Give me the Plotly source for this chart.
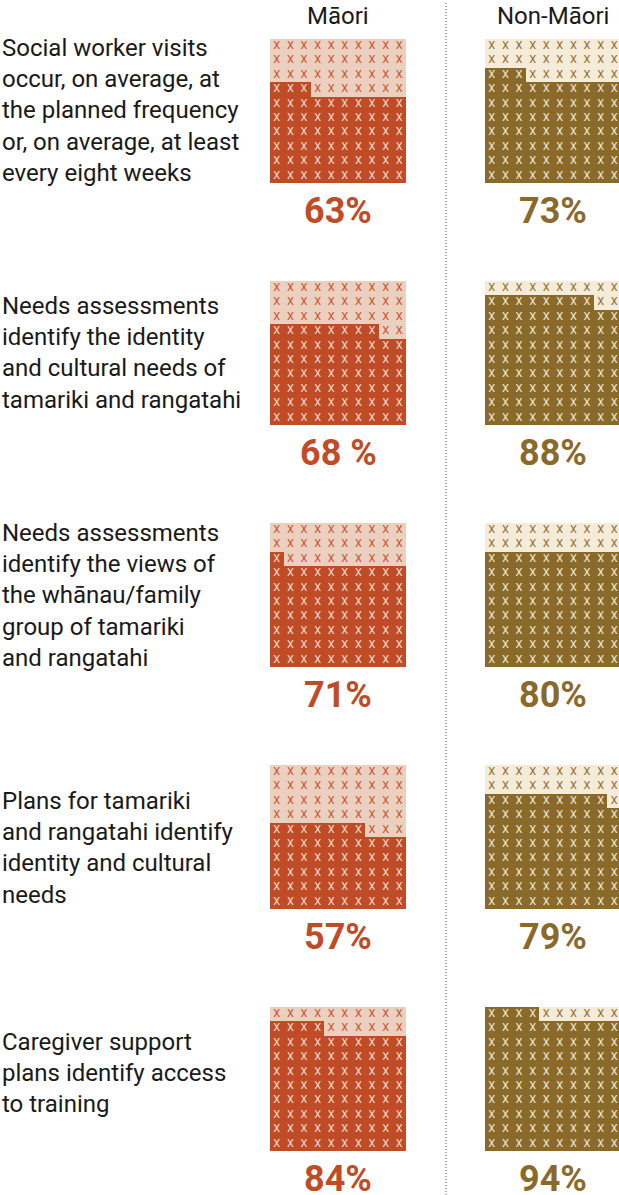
import plotly.graph_objects as go

# ---- data -------------------------------------------------------------
measures = [
    "Social worker visits<br>occur, on average, at<br>the planned frequency<br>or, on average, at least<br>every eight weeks",
    "Needs assessments<br>identify the identity<br>and cultural needs of<br>tamariki and rangatahi",
    "Needs assessments<br>identify the views of<br>the whānau/family<br>group of tamariki<br>and rangatahi",
    "Plans for tamariki<br>and rangatahi identify<br>identity and cultural<br>needs",
    "Caregiver support<br>plans identify access<br>to training",
]
groups = ["Māori", "Non-Māori"]
maori_pct = [63, 68, 71, 57, 84]
non_maori_pct = [73, 88, 80, 79, 94]
maori_labels = ["63%", "68 %", "71%", "57%", "84%"]
non_maori_labels = ["73%", "88%", "80%", "79%", "94%"]

# ---- styling ------------------------------------------------------------
W, H = 619, 1195
FONT = "Roboto"
styles = {
    "Māori": dict(dark="#BF4C27", light="#EBCFBF", x_on_dark="#F6D9CB", x_on_light="#C7552F"),
    "Non-Māori": dict(dark="#8A6A2B", light="#F5EBD9", x_on_dark="#F3E7D0", x_on_light="#8E6E2F"),
}
GRID_LEFT = {"Māori": 270, "Non-Māori": 485}
GRID_W, GRID_H = 136, 144
PANEL_TOP0, PANEL_STEP = 39, 242
NCOLS, NROWS = 10, 10
label_centres = [110.5, 353, 595.5, 847.5, 1073]

fig = go.Figure()
layout_axes = {}
annotations = []

ax_n = 0
for i in range(len(measures)):
    top = PANEL_TOP0 + PANEL_STEP * i
    for g, pcts, labels in (("Māori", maori_pct, maori_labels),
                            ("Non-Māori", non_maori_pct, non_maori_labels)):
        st = styles[g]
        pct = pcts[i]
        ax_n += 1
        xa = "x" if ax_n == 1 else f"x{ax_n}"
        ya = "y" if ax_n == 1 else f"y{ax_n}"

        # waffle cells: filled from the bottom row, left to right
        z = [[1 if r * NCOLS + c < pct else 0 for c in range(NCOLS)] for r in range(NROWS)]
        fig.add_trace(go.Heatmap(
            z=z, x=list(range(NCOLS)), y=list(range(NROWS)),
            colorscale=[[0, st["light"]], [1, st["dark"]]],
            zmin=0, zmax=1, showscale=False, hoverinfo="skip",
            xaxis=xa, yaxis=ya,
        ))
        xs, ys, cols = [], [], []
        for r in range(NROWS):
            for c in range(NCOLS):
                xs.append(c)
                ys.append(r)
                cols.append(st["x_on_dark"] if z[r][c] else st["x_on_light"])
        fig.add_trace(go.Scatter(
            x=xs, y=ys, mode="text", text=["X"] * len(xs),
            textfont=dict(family=FONT, size=11, color=cols),
            textposition="middle center", hoverinfo="skip",
            xaxis=xa, yaxis=ya, showlegend=False,
        ))

        left = GRID_LEFT[g]
        right = left + GRID_W
        x_hi = 9.5
        if right > W:
            x_hi = 9.5 - (right - W) / (GRID_W / NCOLS)
            right = W
        bottom = top + GRID_H
        layout_axes["xaxis" if ax_n == 1 else f"xaxis{ax_n}"] = dict(
            domain=[left / W, right / W], range=[-0.5, x_hi],
            visible=False, fixedrange=True, anchor=ya,
        )
        layout_axes["yaxis" if ax_n == 1 else f"yaxis{ax_n}"] = dict(
            domain=[1 - bottom / H, 1 - top / H], range=[-0.5, 9.5],
            visible=False, fixedrange=True, anchor=xa,
        )

        # percentage under each waffle
        annotations.append(dict(
            x=(GRID_LEFT[g] + GRID_W / 2) / W, y=1 - (bottom + 28) / H,
            xref="paper", yref="paper", xanchor="center", yanchor="middle",
            text=f"<b>{labels[i]}</b>", showarrow=False,
            font=dict(family=FONT, size=36, color=st["dark"]),
        ))

    # measure description on the left
    annotations.append(dict(
        x=0, y=1 - label_centres[i] / H, xref="paper", yref="paper",
        xanchor="left", yanchor="middle", align="left",
        text=measures[i], showarrow=False,
        font=dict(family=FONT, size=24, color="#1A1A1A"),
    ))

# column headers
for g in groups:
    annotations.append(dict(
        x=(GRID_LEFT[g] + GRID_W / 2) / W, y=1 - 16 / H,
        xref="paper", yref="paper", xanchor="center", yanchor="middle",
        text=g, showarrow=False,
        font=dict(family=FONT, size=24, color="#1A1A1A"),
    ))

fig.update_layout(
    width=W, height=H,
    margin=dict(l=0, r=0, t=0, b=0),
    paper_bgcolor="white", plot_bgcolor="white",
    showlegend=False,
    annotations=annotations,
    shapes=[dict(
        type="line", xref="paper", yref="paper",
        x0=446 / W, x1=446 / W, y0=0, y1=1 - 3 / H,
        line=dict(color="#555555", width=1, dash="1px,2px"),
    )],
    **layout_axes,
)

fig.write_html("out.html", config={"displayModeBar": False})
